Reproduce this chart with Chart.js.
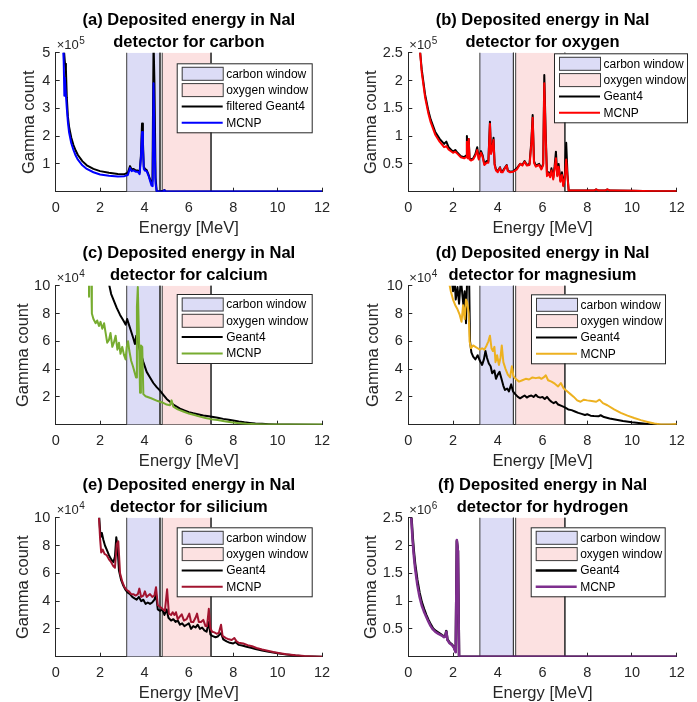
<!DOCTYPE html>
<html>
<head>
<meta charset="utf-8">
<script src="https://cdn.jsdelivr.net/npm/chart.js@4.4.0/dist/chart.umd.min.js"></script>
<style>
  body { margin: 0; background: #fff; }
  #wrap { position: relative; width: 697px; height: 702px; overflow: hidden; }
  canvas { position: absolute; }
</style>
</head>
<body>
<div id="wrap">
  <canvas id="chartA" width="348" height="240" style="left:0px;top:0px"></canvas>
  <canvas id="chartB" width="348" height="240" style="left:349px;top:0px"></canvas>
  <canvas id="chartC" width="348" height="240" style="left:0px;top:233px"></canvas>
  <canvas id="chartD" width="348" height="240" style="left:349px;top:233px"></canvas>
  <canvas id="chartE" width="348" height="240" style="left:0px;top:465px"></canvas>
  <canvas id="chartF" width="348" height="240" style="left:349px;top:465px"></canvas>
</div>
<script>
// energy axis (MeV) and the two detection windows
const energyTicks = [0, 2, 4, 6, 8, 10, 12];
const carbonWindow = [3.2, 4.7];
const oxygenWindow = [4.8, 7.0];

// (a) carbon, counts x 1e5
const carbonTicks = [1, 2, 3, 4, 5];
const carbonGeantE = [
  0.33, 0.38, 0.42, 0.46, 0.5, 0.55, 0.6, 0.7, 0.8, 0.9,
  1.0, 1.2, 1.4, 1.7, 2.0, 2.4, 2.8, 3.1, 3.25, 3.35,
  3.42, 3.5, 3.6, 3.7, 3.78, 3.84, 3.89, 3.93, 3.97, 4.02,
  4.1, 4.18, 4.25, 4.32, 4.36, 4.41, 4.45, 4.5, 4.55, 4.7,
  4.85, 4.9, 4.95, 5.1, 6, 8, 10, 12];
const carbonGeant = [
  5.3, 5.0, 4.6, 4.4, 3.4, 2.7, 2.35, 1.95, 1.68, 1.48,
  1.32, 1.1, 0.95, 0.82, 0.74, 0.68, 0.64, 0.63, 0.68, 0.92,
  0.8, 0.82, 0.77, 0.76, 0.68, 1.3, 2.45, 1.8, 0.9, 0.82,
  0.78, 0.62, 0.45, 0.3, 0.4, 5.4, 3.9, 0.5, 0.02, 0.02,
  0.03, 0.06, 0.02, 0.01, 0.01, 0.01, 0.01, 0.01];
const carbonMcnpE = [
  0.33, 0.36, 0.39, 0.41, 0.45, 0.5, 0.55, 0.6, 0.7, 0.8,
  0.9, 1.0, 1.2, 1.4, 1.7, 2.0, 2.4, 2.8, 3.1, 3.25,
  3.35, 3.42, 3.5, 3.6, 3.7, 3.78, 3.84, 3.89, 3.93, 3.97,
  4.02, 4.1, 4.18, 4.25, 4.32, 4.37, 4.41, 4.45, 4.5, 4.55,
  4.7, 4.85, 4.9, 4.95, 5.1, 6, 8, 10, 12];
const carbonMcnp = [
  5.2, 4.7, 3.45, 4.1, 3.6, 3.0, 2.5, 2.15, 1.75, 1.5,
  1.3, 1.15, 0.95, 0.82, 0.7, 0.62, 0.57, 0.55, 0.56, 0.6,
  0.85, 0.74, 0.77, 0.72, 0.72, 0.63, 1.2, 2.15, 1.6, 0.82,
  0.76, 0.74, 0.58, 0.4, 0.22, 0.2, 3.9, 2.0, 0.3, 0.01,
  0.01, 0.02, 0.05, 0.01, 0.01, 0.01, 0.01, 0.01, 0.01];

// (b) oxygen, counts x 1e5
const oxygenTicks = [0.5, 1, 1.5, 2, 2.5];
const oxygenE = [
  0.52, 0.6, 0.75, 0.9, 1.0, 1.2, 1.4, 1.6, 1.7, 1.8,
  2.0, 2.1, 2.2, 2.35, 2.5, 2.58, 2.62, 2.66, 2.7, 2.74,
  2.8, 2.9, 3.0, 3.08, 3.15, 3.25, 3.32, 3.4, 3.5, 3.58,
  3.65, 3.7, 3.76, 3.81, 3.86, 3.92, 4.0, 4.1, 4.15, 4.22,
  4.3, 4.4, 4.45, 4.55, 4.7, 4.85, 5.0, 5.1, 5.2, 5.3,
  5.42, 5.5, 5.56, 5.62, 5.7, 5.85, 5.95, 6.03, 6.08, 6.14,
  6.2, 6.27, 6.34, 6.4, 6.48, 6.54, 6.6, 6.66, 6.72, 6.8,
  6.87, 6.93, 7.0, 7.06, 7.12, 7.17, 7.25, 7.6, 8.0, 8.3,
  8.4, 8.5, 8.8, 8.9, 9.0, 10, 11, 12];
const oxygenGeant = [
  2.55, 2.2, 1.75, 1.45, 1.3, 1.08, 0.95, 0.86, 0.9, 0.8,
  0.72, 0.75, 0.7, 0.64, 0.62, 0.65, 1.0, 0.62, 0.95, 0.6,
  0.58, 0.6, 0.68, 0.8, 0.6, 0.73, 0.66, 0.5, 0.55, 0.55,
  1.26, 0.7, 0.8, 0.97, 0.5, 0.4, 0.37, 0.44, 0.36, 0.37,
  0.42, 0.48, 0.38, 0.36, 0.37, 0.42, 0.5, 0.48, 0.55, 0.48,
  0.5, 0.9, 1.38, 0.55, 0.47, 0.5, 0.42, 0.5, 2.1, 1.1,
  0.3, 0.35, 0.28, 0.42, 0.25, 0.45, 0.72, 0.3, 0.5, 0.2,
  0.35, 0.12, 0.3, 0.88, 0.3, 0.02, 0.02, 0.02, 0.02, 0.02,
  0.04, 0.02, 0.02, 0.04, 0.02, 0.015, 0.01, 0.01];
const oxygenMcnp = [
  2.55, 2.15, 1.7, 1.4, 1.25, 1.03, 0.9, 0.8, 0.82, 0.76,
  0.7, 0.72, 0.68, 0.62, 0.6, 0.62, 0.9, 0.6, 0.95, 0.58,
  0.56, 0.58, 0.65, 0.75, 0.58, 0.7, 0.63, 0.48, 0.52, 0.52,
  1.22, 0.68, 0.78, 0.93, 0.48, 0.38, 0.35, 0.43, 0.35, 0.35,
  0.41, 0.47, 0.37, 0.35, 0.36, 0.4, 0.5, 0.47, 0.54, 0.47,
  0.48, 0.85, 1.33, 0.52, 0.45, 0.48, 0.4, 0.48, 1.95, 1.0,
  0.28, 0.33, 0.26, 0.38, 0.22, 0.42, 0.6, 0.28, 0.45, 0.18,
  0.3, 0.1, 0.25, 0.58, 0.25, 0.02, 0.02, 0.02, 0.02, 0.02,
  0.04, 0.02, 0.02, 0.04, 0.02, 0.015, 0.01, 0.01];

// (c) calcium, counts x 1e4
const tenTicks = [2, 4, 6, 8, 10];
const calciumGeantE = [
  2.35, 2.5, 2.6, 2.75, 2.9, 3.05, 3.15, 3.22, 3.3, 3.4,
  3.5, 3.57, 3.63, 3.7, 3.8, 3.95, 4.1, 4.25, 4.4, 4.55,
  4.7, 4.85, 5.0, 5.15, 5.3, 5.45, 5.6, 5.8, 6.0, 6.2,
  6.4, 6.65, 6.9, 7.1, 7.3, 7.55, 7.8, 8.0, 8.25, 8.5,
  8.75, 9.0, 9.3, 9.6, 10, 10.5, 12];
const calciumGeant = [
  10.5, 9.4, 9.0, 8.4, 7.9, 7.5, 7.2, 7.6, 7.2, 6.7,
  6.2, 5.8, 6.4, 6.0, 5.3, 4.5, 3.8, 3.4, 3.0, 2.7,
  2.45, 2.15, 1.85, 1.65, 1.45, 1.3, 1.15, 1.02, 0.9, 0.82,
  0.75, 0.66, 0.6, 0.55, 0.5, 0.42, 0.35, 0.3, 0.23, 0.17,
  0.13, 0.09, 0.06, 0.04, 0.02, 0.01, 0.005];
const calciumMcnpE = [
  1.47, 1.5, 1.6, 1.63, 1.7, 1.8, 1.87, 1.95, 2.02, 2.1,
  2.18, 2.25, 2.32, 2.4, 2.47, 2.55, 2.62, 2.7, 2.78, 2.85,
  2.92, 3.0, 3.08, 3.15, 3.2, 3.26, 3.32, 3.4, 3.48, 3.55,
  3.62, 3.66, 3.7, 3.75, 3.8, 3.84, 3.9, 3.95, 4.05, 4.3,
  4.6, 4.8, 5.0, 5.15, 5.22, 5.3, 5.5, 5.75, 6.0, 6.25,
  6.5, 6.75, 7.0, 7.3, 7.6, 7.9, 8.2, 8.6, 9.0, 9.5,
  10, 12];
const calciumMcnp = [
  9.2, 10.5, 10.5, 8.0, 7.6, 7.3, 7.5, 7.1, 7.4, 6.9,
  7.3, 6.6, 5.9, 6.1, 6.6, 5.6, 5.9, 6.4, 5.4, 5.9,
  5.1, 5.6, 5.0, 4.7, 5.6, 6.0, 5.3, 4.6, 4.2, 3.8,
  3.4, 8.5, 9.9, 6.5, 2.3, 5.7, 5.6, 2.2, 2.05, 1.9,
  1.7, 1.6, 1.45, 1.4, 1.75, 1.3, 1.1, 0.95, 0.8, 0.7,
  0.58, 0.48, 0.4, 0.33, 0.25, 0.18, 0.12, 0.07, 0.04, 0.02,
  0.01, 0.01];

// (d) magnesium, counts x 1e4
const magnesiumGeantE = [
  1.94, 2.0, 2.07, 2.12, 2.2, 2.27, 2.35, 2.42, 2.47, 2.52,
  2.58, 2.63, 2.72, 2.76, 2.82, 2.9, 3.0, 3.1, 3.2, 3.3,
  3.38, 3.45, 3.52, 3.6, 3.68, 3.75, 3.85, 3.92, 4.0, 4.08,
  4.15, 4.25, 4.32, 4.42, 4.5, 4.6, 4.68, 4.78, 4.9, 5.0,
  5.1, 5.2, 5.3, 5.4, 5.5, 5.6, 5.7, 5.8, 5.9, 6.0,
  6.1, 6.2, 6.3, 6.4, 6.5, 6.6, 6.7, 6.85, 7.0, 7.15,
  7.3, 7.45, 7.6, 7.75, 7.9, 8.0, 8.15, 8.3, 8.5, 8.6,
  8.75, 9.0, 9.3, 9.6, 10.0, 10.4, 10.8, 11.2, 12];
const magnesiumGeant = [
  10.5, 9.6, 10.5, 9.0, 9.9, 8.7, 10.5, 9.3, 8.5, 9.6,
  7.3, 10.5, 10.5, 6.0, 5.2, 4.9, 4.7, 5.0, 4.6, 4.3,
  4.7, 5.3, 4.8, 4.4, 4.2, 3.7, 3.9, 3.3, 3.6, 3.8,
  3.4, 2.8, 2.5, 2.6, 2.4, 2.9, 2.4, 2.2, 2.0, 1.9,
  2.0, 2.1, 1.95, 2.05, 2.1, 2.0, 2.15, 2.0, 1.95, 2.0,
  1.85, 2.0, 1.8, 1.65, 1.55, 1.65, 1.45, 1.35, 1.25, 1.1,
  1.05, 0.95, 0.85, 0.78, 0.7, 0.75, 0.65, 0.62, 0.6, 0.68,
  0.55, 0.45, 0.35, 0.26, 0.17, 0.1, 0.04, 0.01, 0.0];
const magnesiumMcnpE = [
  1.79, 1.9, 2.0, 2.1, 2.2, 2.3, 2.38, 2.45, 2.52, 2.58,
  2.63, 2.7, 2.74, 2.8, 2.9, 3.0, 3.1, 3.2, 3.3, 3.4,
  3.5, 3.58, 3.65, 3.72, 3.78, 3.85, 3.9, 3.97, 4.05, 4.12,
  4.18, 4.25, 4.35, 4.45, 4.55, 4.63, 4.7, 4.8, 4.95, 5.1,
  5.25, 5.4, 5.55, 5.7, 5.85, 5.95, 6.05, 6.15, 6.25, 6.4,
  6.55, 6.7, 6.82, 6.95, 7.1, 7.25, 7.4, 7.55, 7.7, 7.85,
  8.0, 8.2, 8.4, 8.55, 8.7, 8.9, 9.2, 9.5, 9.8, 10.1,
  10.4, 10.7, 11.0, 11.3, 11.7, 12];
const magnesiumMcnp = [
  10.5, 9.6, 9.0, 8.6, 8.3, 7.9, 7.4, 8.6, 7.6, 9.0,
  8.8, 8.0, 6.0, 5.5, 5.7, 5.6, 5.5, 5.4, 5.5, 5.4,
  5.7, 6.0, 6.4, 5.5, 5.3, 5.6, 4.5, 5.0, 4.3, 4.8,
  5.7, 4.5, 4.0, 3.6, 3.4, 4.2, 3.5, 3.3, 3.1, 3.2,
  3.3, 3.25, 3.4, 3.35, 3.4, 3.3, 3.4, 3.55, 3.2, 3.1,
  2.95, 2.75, 3.0, 2.6, 2.4, 2.2, 2.0, 1.75, 1.65, 1.8,
  1.75, 1.7, 1.65, 1.8, 1.55, 1.4, 1.1, 0.85, 0.65, 0.48,
  0.33, 0.2, 0.08, 0.02, 0.02, 0.05];

// (e) silicium, counts x 1e4
const siliciumGeantE = [
  1.95, 2.02, 2.08, 2.15, 2.22, 2.3, 2.4, 2.5, 2.6, 2.67,
  2.73, 2.78, 2.85, 2.95, 3.05, 3.15, 3.25, 3.35, 3.45, 3.55,
  3.65, 3.75, 3.85, 3.95, 4.05, 4.15, 4.25, 4.35, 4.45, 4.52,
  4.6, 4.7, 4.8, 4.9, 5.0, 5.08, 5.2, 5.3, 5.4, 5.5,
  5.6, 5.7, 5.8, 5.9, 6.0, 6.1, 6.2, 6.3, 6.4, 6.5,
  6.6, 6.7, 6.8, 6.9, 6.97, 7.05, 7.2, 7.3, 7.45, 7.55,
  7.7, 7.85, 8.0, 8.1, 8.25, 8.4, 8.6, 8.8, 9.0, 9.3,
  9.6, 10.0, 10.4, 10.8, 11.2, 11.6, 12];
const siliciumGeant = [
  10.3, 8.6, 8.9, 8.4, 8.0, 7.7, 7.3, 7.0, 6.8, 7.2,
  8.6, 8.0, 6.2, 5.5, 5.1, 4.8, 4.6, 4.5, 4.3, 4.2,
  4.1, 4.3, 4.0, 4.1, 3.8, 3.9, 3.8, 3.9, 4.1, 4.5,
  3.4, 3.3, 3.4, 3.0, 3.4, 2.8, 2.6, 2.7, 2.5, 2.6,
  2.3, 2.4, 2.2, 2.3, 2.4, 2.0, 2.2, 2.1, 2.3, 2.0,
  2.1, 1.9, 1.8, 2.5, 1.6, 1.5, 1.4, 1.45, 1.7, 1.25,
  1.1, 1.0, 0.95, 1.05, 0.85, 0.8, 0.72, 0.64, 0.55, 0.45,
  0.35, 0.25, 0.15, 0.08, 0.03, 0.01, 0.0];
const siliciumMcnpE = [
  1.95, 2.0, 2.05, 2.12, 2.2, 2.3, 2.4, 2.5, 2.6, 2.67,
  2.75, 2.82, 2.9, 3.0, 3.1, 3.2, 3.3, 3.4, 3.5, 3.6,
  3.7, 3.77, 3.85, 3.95, 4.02, 4.1, 4.17, 4.25, 4.35, 4.45,
  4.52, 4.6, 4.7, 4.8, 4.92, 5.02, 5.1, 5.2, 5.27, 5.35,
  5.42, 5.5, 5.6, 5.68, 5.78, 5.9, 6.02, 6.1, 6.2, 6.3,
  6.37, 6.45, 6.55, 6.65, 6.75, 6.82, 6.9, 6.97, 7.05, 7.15,
  7.25, 7.35, 7.45, 7.52, 7.65, 7.8, 7.93, 8.05, 8.15, 8.25,
  8.45, 8.65, 8.85, 9.05, 9.3, 9.55, 9.8, 10.1, 10.4, 10.8,
  11.2, 11.6, 12];
const siliciumMcnp = [
  10.0, 8.5, 7.5, 7.7, 7.4, 7.3, 7.0, 6.8, 6.5, 6.4,
  8.1, 8.3, 6.0, 5.4, 5.0, 4.8, 4.7, 4.5, 4.5, 4.4,
  4.5, 4.9, 4.3, 4.4, 4.7, 4.3, 4.4, 4.5, 4.3, 4.4,
  5.0, 3.7, 3.6, 3.45, 3.3, 4.85, 3.1, 3.0, 3.2, 3.0,
  3.2, 2.7, 2.9, 3.05, 2.6, 2.7, 3.1, 2.5, 2.5, 2.8,
  3.1, 2.5, 2.5, 2.65, 2.2, 2.2, 3.45, 2.05, 1.8, 1.75,
  1.65, 1.7, 2.3, 1.5, 1.35, 1.25, 1.2, 1.35, 1.1, 1.0,
  0.95, 0.83, 0.75, 0.63, 0.52, 0.43, 0.34, 0.25, 0.17, 0.1,
  0.05, 0.02, 0.0];

// (f) hydrogen, counts x 1e6
const hydrogenTicks = [0.5, 1, 1.5, 2, 2.5];
const hydrogenE = [
  0.12, 0.16, 0.2, 0.25, 0.3, 0.35, 0.4, 0.5, 0.6, 0.7,
  0.8, 0.9, 1.0, 1.1, 1.2, 1.35, 1.5, 1.6, 1.65, 1.7,
  1.75, 1.85, 1.95, 2.03, 2.12, 2.17, 2.22, 2.27, 2.4, 4,
  6, 8, 10, 12];
const hydrogenGeant = [
  2.6, 2.38, 2.13, 1.88, 1.68, 1.53, 1.38, 1.15, 0.98, 0.86,
  0.75, 0.66, 0.58, 0.51, 0.47, 0.43, 0.39, 0.36, 0.37, 0.46,
  0.31, 0.25, 0.22, 0.18, 0.09, 2.08, 1.9, 0.0, 0.0, 0.0,
  0.0, 0.0, 0.0, 0.0];
const hydrogenMcnp = [
  2.6, 2.3, 2.05, 1.8, 1.6, 1.45, 1.3, 1.08, 0.92, 0.81,
  0.72, 0.63, 0.55, 0.49, 0.45, 0.41, 0.38, 0.35, 0.36, 0.45,
  0.3, 0.24, 0.21, 0.17, 0.08, 2.1, 1.9, 0.0, 0.0, 0.0,
  0.0, 0.0, 0.0, 0.0];

const FONT = "'Liberation Sans', Arial, Helvetica, sans-serif";
const INK = "#262626";
const EDGE = "#3c3c3c";
const CANVAS_H = 240;
const AREA_BOTTOM = 191.7;

const pts = (xs, ys) => xs.map((x, i) => ({ x: x, y: ys[i] }));

// the "x10^n" label MATLAB puts above the y axis
const exponentLabel = {
  id: "exponentLabel",
  afterDraw(chart, args, opts) {
    const ctx = chart.ctx;
    const area = chart.chartArea;
    ctx.save();
    ctx.fillStyle = INK;
    ctx.textBaseline = "alphabetic";
    ctx.font = "13px " + FONT;
    const x = area.left + 1;
    const y = area.top - 3.5;
    ctx.fillText("\u00d710", x, y);
    const w = ctx.measureText("\u00d710").width;
    ctx.font = "10px " + FONT;
    ctx.fillText(String(opts.power), x + w + 0.5, y - 5.5);
    ctx.restore();
  },
};

// boxed legend inside the axes, like MATLAB's
const boxLegend = {
  id: "boxLegend",
  afterDraw(chart, args, opts) {
    const ctx = chart.ctx;
    const left = opts.left;
    const top = opts.top;
    const width = opts.width;
    const rowH = 16.3;
    ctx.save();
    ctx.fillStyle = "#fff";
    ctx.fillRect(left, top, width, 69);
    ctx.strokeStyle = INK;
    ctx.lineWidth = 1;
    ctx.strokeRect(left + 0.5, top + 0.5, width, 69);
    ctx.font = "12px " + FONT;
    ctx.textBaseline = "middle";
    chart.data.datasets.forEach((ds, i) => {
      const y = top + 10.5 + i * rowH;
      const x0 = left + 5;
      const x1 = left + 46;
      if (ds.fill) {
        ctx.fillStyle = ds.backgroundColor;
        ctx.fillRect(x0, y - 7, x1 - x0, 14);
        ctx.strokeStyle = EDGE;
        ctx.lineWidth = 1;
        ctx.strokeRect(x0 + 0.5, y - 6.5, x1 - x0, 13);
      } else {
        ctx.strokeStyle = ds.borderColor;
        ctx.lineWidth = ds.borderWidth;
        ctx.beginPath();
        ctx.moveTo(x0, y);
        ctx.lineTo(x1, y);
        ctx.stroke();
      }
      ctx.fillStyle = "#000";
      ctx.fillText(ds.label, left + 49.5, y + 0.5);
    });
    ctx.restore();
  },
};

function windowSet(label, range, color, yMax) {
  const top = yMax * 3;
  return {
    label: label,
    data: [
      { x: range[0], y: 0 },
      { x: range[0], y: top },
      { x: range[1], y: top },
      { x: range[1], y: 0 },
    ],
    borderColor: EDGE,
    borderWidth: 1,
    backgroundColor: color,
    fill: "origin",
    pointRadius: 0,
    clip: 0,
    order: 2,
  };
}

function makePanel(cfg) {
  const ctx = document.getElementById(cfg.id).getContext("2d");
  const yMax = cfg.yTicks[cfg.yTicks.length - 1];
  return new Chart(ctx, {
    type: "line",
    data: {
      datasets: [
        windowSet("carbon window", carbonWindow, "#dcdcf6", yMax),
        windowSet("oxygen window", oxygenWindow, "#fce1e1", yMax),
        {
          label: cfg.geantLabel,
          data: pts(cfg.geantE, cfg.geant),
          borderColor: "#000000",
          borderWidth: cfg.lineWidth || 2,
          borderJoinStyle: "round",
          pointRadius: 0,
          fill: false,
          order: 1,
        },
        {
          label: "MCNP",
          data: pts(cfg.mcnpE, cfg.mcnp),
          borderColor: cfg.color,
          borderWidth: cfg.lineWidth || 2,
          borderJoinStyle: "round",
          pointRadius: 0,
          fill: false,
          order: 0,
        },
      ],
    },
    options: {
      responsive: false,
      animation: false,
      devicePixelRatio: 1,
      events: [],
      layout: { padding: { left: 0, right: cfg.padRight, top: 0, bottom: 0 } },
      scales: {
        x: {
          type: "linear",
          min: 0,
          max: 12,
          afterBuildTicks: (s) => {
            s.ticks = energyTicks.map((v) => ({ value: v }));
          },
          afterFit: (s) => {
            s.height = CANVAS_H - AREA_BOTTOM;
          },
          border: { color: INK, width: 1 },
          grid: { drawOnChartArea: false, color: INK, tickLength: -4, tickWidth: 1 },
          ticks: {
            color: INK,
            font: { family: FONT, size: 14.5 },
            padding: 12,
            maxRotation: 0,
            autoSkip: false,
            callback: (v) => String(v),
          },
          title: {
            display: true,
            text: "Energy [MeV]",
            color: INK,
            font: { family: FONT, size: 16.5 },
            padding: { top: 0, bottom: 2 },
          },
        },
        y: {
          type: "linear",
          min: 0,
          max: yMax,
          afterBuildTicks: (s) => {
            s.ticks = cfg.yTicks.map((v) => ({ value: v }));
          },
          afterFit: (s) => {
            s.width = cfg.areaLeft;
          },
          border: { color: INK, width: 1 },
          grid: { drawOnChartArea: false, color: INK, tickLength: -4, tickWidth: 1 },
          ticks: {
            color: INK,
            font: { family: FONT, size: 14.5 },
            padding: 9.5,
            autoSkip: false,
            callback: (v) => String(v),
          },
          title: {
            display: true,
            text: "Gamma count",
            color: INK,
            font: { family: FONT, size: 16.5 },
            padding: { top: cfg.yTitlePad, bottom: 0 },
          },
        },
      },
      plugins: {
        legend: { display: false },
        tooltip: { enabled: false },
        title: {
          display: true,
          text: cfg.title,
          fullSize: false,
          color: "#000",
          font: { family: FONT, size: 16.5, weight: "bold", lineHeight: 1.3 },
          padding: { top: 9.8, bottom: 0 },
        },
        exponentLabel: { power: cfg.power },
        boxLegend: cfg.legend,
      },
    },
    plugins: [exponentLabel, boxLegend],
  });
}

makePanel({
  id: "chartA",
  title: ["(a) Deposited energy in NaI", "detector for carbon"],
  geantLabel: "filtered Geant4",
  geantE: carbonGeantE, geant: carbonGeant,
  mcnpE: carbonMcnpE, mcnp: carbonMcnp,
  color: "#0000ff",
  yTicks: carbonTicks, power: 5,
  areaLeft: 55.7, padRight: 26, yTitlePad: 20,
  legend: { left: 176.7, top: 63.3, width: 135 },
});

makePanel({
  id: "chartB",
  title: ["(b) Deposited energy in NaI", "detector for oxygen"],
  geantLabel: "Geant4",
  geantE: oxygenE, geant: oxygenGeant,
  mcnpE: oxygenE, mcnp: oxygenMcnp,
  color: "#ff0000",
  yTicks: oxygenTicks, power: 5,
  areaLeft: 59.3, padRight: 20.3, yTitlePad: 12.8,
  legend: { left: 205, top: 53.3, width: 133 },
});

makePanel({
  id: "chartC",
  title: ["(c) Deposited energy in NaI", "detector for calcium"],
  geantLabel: "Geant4",
  geantE: calciumGeantE, geant: calciumGeant,
  mcnpE: calciumMcnpE, mcnp: calciumMcnp,
  color: "#77ac30",
  yTicks: tenTicks, power: 4,
  areaLeft: 55.7, padRight: 26, yTitlePad: 13.4,
  legend: { left: 176.7, top: 61, width: 135 },
});

makePanel({
  id: "chartD",
  title: ["(d) Deposited energy in NaI", "detector for magnesium"],
  geantLabel: "Geant4",
  geantE: magnesiumGeantE, geant: magnesiumGeant,
  mcnpE: magnesiumMcnpE, mcnp: magnesiumMcnp,
  color: "#edb120",
  yTicks: tenTicks, power: 4,
  areaLeft: 59.3, padRight: 20.3, yTitlePad: 15,
  legend: { left: 182, top: 61.3, width: 134 },
});

makePanel({
  id: "chartE",
  title: ["(e) Deposited energy in NaI", "detector for silicium"],
  geantLabel: "Geant4",
  geantE: siliciumGeantE, geant: siliciumGeant,
  mcnpE: siliciumMcnpE, mcnp: siliciumMcnp,
  color: "#a2142f",
  yTicks: tenTicks, power: 4,
  areaLeft: 55.7, padRight: 26, yTitlePad: 14,
  legend: { left: 176.7, top: 62.3, width: 135 },
});

makePanel({
  id: "chartF",
  title: ["(f) Deposited energy in NaI", "detector for hydrogen"],
  geantLabel: "Geant4",
  geantE: hydrogenE, geant: hydrogenGeant,
  mcnpE: hydrogenE, mcnp: hydrogenMcnp,
  color: "#7e2f8e",
  lineWidth: 2.5,
  yTicks: hydrogenTicks, power: 6,
  areaLeft: 59.3, padRight: 20.3, yTitlePad: 12.8,
  legend: { left: 181.7, top: 62.3, width: 134 },
});
</script>
</body>
</html>
